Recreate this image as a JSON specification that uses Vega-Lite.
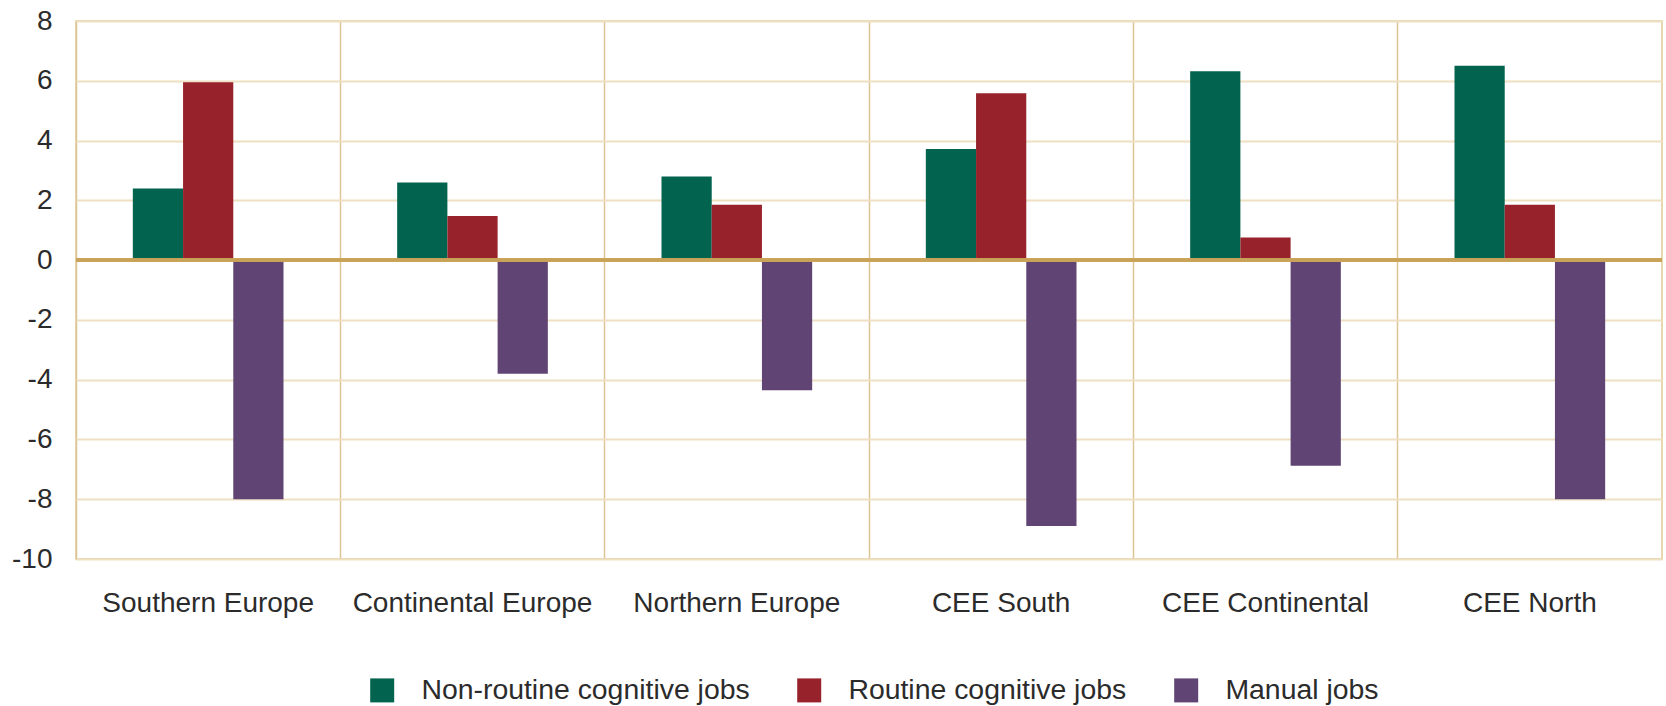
{
  "$schema": "https://vega.github.io/schema/vega-lite/v6.json",
  "autosize": {"type": "none"},
  "padding": {"left": 76, "top": 21, "right": 4, "bottom": 147},
  "width": 1586,
  "height": 538,
  "background": "white",
  "config": {
    "font": "Liberation Sans",
    "view": {"stroke": "#E9D7B0", "strokeWidth": 2},
    "axis": {"labelColor": "#2b2b2b", "labelFont": "Liberation Sans"},
    "legend": {"labelColor": "#2b2b2b", "labelFont": "Liberation Sans"}
  },
  "data": {
    "values": [
      {"region": "Southern Europe", "series": "Non-routine cognitive jobs", "value": 2.4},
      {"region": "Southern Europe", "series": "Routine cognitive jobs", "value": 5.95},
      {"region": "Southern Europe", "series": "Manual jobs", "value": -8.0},
      {"region": "Continental Europe", "series": "Non-routine cognitive jobs", "value": 2.6},
      {"region": "Continental Europe", "series": "Routine cognitive jobs", "value": 1.48},
      {"region": "Continental Europe", "series": "Manual jobs", "value": -3.8},
      {"region": "Northern Europe", "series": "Non-routine cognitive jobs", "value": 2.8},
      {"region": "Northern Europe", "series": "Routine cognitive jobs", "value": 1.85},
      {"region": "Northern Europe", "series": "Manual jobs", "value": -4.35},
      {"region": "CEE South", "series": "Non-routine cognitive jobs", "value": 3.72},
      {"region": "CEE South", "series": "Routine cognitive jobs", "value": 5.58},
      {"region": "CEE South", "series": "Manual jobs", "value": -8.9},
      {"region": "CEE Continental", "series": "Non-routine cognitive jobs", "value": 6.32},
      {"region": "CEE Continental", "series": "Routine cognitive jobs", "value": 0.76},
      {"region": "CEE Continental", "series": "Manual jobs", "value": -6.88},
      {"region": "CEE North", "series": "Non-routine cognitive jobs", "value": 6.5},
      {"region": "CEE North", "series": "Routine cognitive jobs", "value": 1.85},
      {"region": "CEE North", "series": "Manual jobs", "value": -8.0}
    ]
  },
  "layer": [
    {
      "mark": {"type": "bar"},
      "encoding": {
        "x": {
          "field": "region", "type": "nominal",
          "sort": ["Southern Europe", "Continental Europe", "Northern Europe", "CEE South", "CEE Continental", "CEE North"],
          "scale": {"paddingInner": 0.43, "paddingOuter": 0.215},
          "axis": {
            "title": null, "labelAngle": 0, "labelFontSize": 28, "labelPadding": 30, "labelLimit": 0,
            "ticks": false, "domain": false, "grid": true, "bandPosition": -0.377,
            "gridColor": "#DCC496", "gridWidth": 1.5
          }
        },
        "xOffset": {
          "field": "series", "type": "nominal",
          "sort": ["Non-routine cognitive jobs", "Routine cognitive jobs", "Manual jobs"],
          "scale": {"paddingInner": 0, "paddingOuter": 0}
        },
        "y": {
          "field": "value", "type": "quantitative",
          "scale": {"domain": [-10, 8], "nice": false},
          "axis": {
            "title": null, "values": [-10, -8, -6, -4, -2, 0, 2, 4, 6, 8],
            "labelExpr": "replace(datum.label, '−', '-')",
            "labelFontSize": 28, "labelPadding": 24, "ticks": false, "domain": false,
            "gridColor": "#EEE0C2", "gridWidth": 2
          }
        },
        "color": {
          "field": "series", "type": "nominal",
          "scale": {
            "domain": ["Non-routine cognitive jobs", "Routine cognitive jobs", "Manual jobs"],
            "range": ["#02634F", "#97222B", "#604473"]
          },
          "legend": {
            "title": null, "orient": "none", "legendX": 292, "legendY": 655,
            "direction": "horizontal", "symbolType": "square", "symbolSize": 576,
            "symbolStrokeWidth": 0, "labelFontSize": 28.4, "labelOffset": 25, "labelLimit": 0,
            "columnPadding": 45
          }
        }
      }
    },
    {
      "mark": {"type": "rule", "color": "#C9A25A", "strokeWidth": 2.5},
      "encoding": {"y": {"datum": 0}}
    }
  ]
}
